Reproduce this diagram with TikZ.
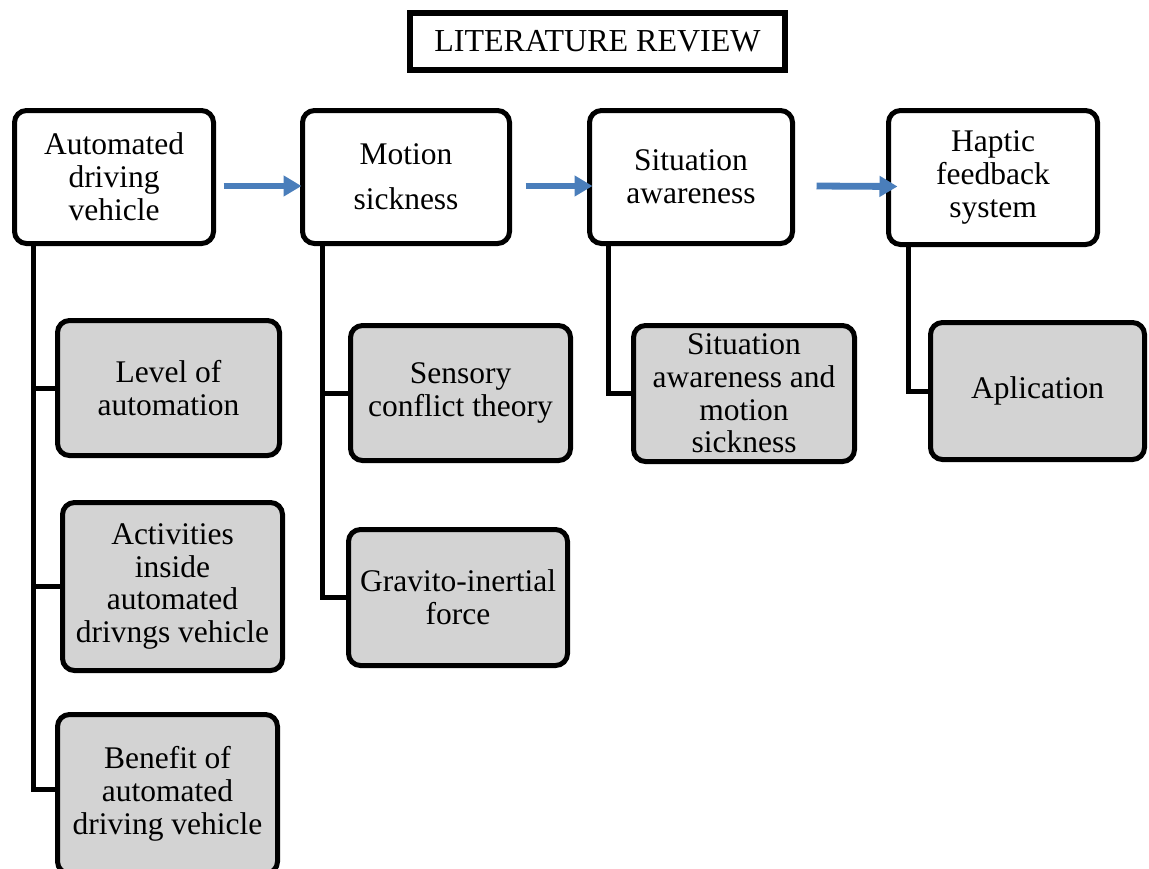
\documentclass[tikz,border=0pt]{standalone}
\usepackage{fontspec}
\setmainfont{Liberation Serif}
\usetikzlibrary{arrows.meta,calc}
\definecolor{subgray}{RGB}{211,211,211}
\definecolor{arrblue}{RGB}{74,126,187}
\tikzset{
  topbox/.style={draw=black, line width=2.5pt, rounded corners=6pt, fill=white,
    align=center, inner sep=0pt, font=\fontsize{15.75pt}{16.4pt}\selectfont},
  subbox/.style={topbox, fill=subgray},
  titlebox/.style={draw=black, line width=3pt, fill=white, inner sep=0pt,
    font=\fontsize{16pt}{18pt}\selectfont},
  trunk/.style={draw=black, line width=2.5pt},
  flowarrow/.style={draw=arrblue, line width=3.4pt, -{Triangle[length=9pt,width=10pt]}}
}
\begin{document}
\begin{tikzpicture}[x=0.5pt,y=-0.5pt]
\useasboundingbox (0,0) rectangle (1149,868);
\clip (0,0) rectangle (1149,868);
% title
\node[titlebox, minimum width=187.5pt, minimum height=28.5pt] (title) at (597.5,41.5) {LITERATURE REVIEW};
% top row
\node[topbox, minimum width=99.5pt, minimum height=66.5pt] (A) at (114,177) {Automated\\driving\\vehicle};
\node[topbox, minimum width=103.5pt, minimum height=66.5pt] (B) at (406,177) {Motion\\[6pt]sickness};
\node[topbox, minimum width=101.5pt, minimum height=66.5pt] (C) at (691,177) {Situation\\awareness};
\node[topbox, minimum width=104.5pt, minimum height=67pt] (D) at (993,177.5) {Haptic\\feedback\\system};
% sub boxes
\node[subbox, minimum width=111pt, minimum height=67.5pt] (L1) at (168.5,388) {Level of\\automation};
\node[subbox, minimum width=110pt, minimum height=84pt] (L2) at (172.5,586.5) {Activities\\inside\\automated\\drivngs vehicle};
\node[subbox, minimum width=110pt, minimum height=79.5pt] (L3) at (167.5,794) {Benefit of\\automated\\driving vehicle};
\node[subbox, minimum width=110pt, minimum height=67.5pt] (M1) at (460.5,393) {Sensory\\conflict theory};
\node[subbox, minimum width=109.5pt, minimum height=68pt] (M2) at (458,597.5) {Gravito-inertial\\force};
\node[subbox, minimum width=110.5pt, minimum height=68pt] (S1) at (744,393.5) {Situation\\awareness and\\motion\\sickness};
\node[subbox, minimum width=107pt, minimum height=68.5pt] (H1) at (1037.5,391) {Aplication};
% trunks
\draw[trunk] ($(A.south)+(-81,0)$) |- (L1.west);
\draw[trunk] ($(A.south)+(-81,0)$) |- (L2.west);
\draw[trunk] ($(A.south)+(-81,0)$) |- ($(L3.west)+(0,-5)$);
\draw[trunk] ($(B.south)+(-84,0)$) |- (M1.west);
\draw[trunk] ($(B.south)+(-84,0)$) |- (M2.west);
\draw[trunk] ($(C.south)+(-83,0)$) |- (S1.west);
\draw[trunk] ($(D.south)+(-84.5,0)$) |- (H1.west);
% arrows
\draw[flowarrow] ($(A.east)+(7.5,9)$) -- ($(B.west)+(1.5,9)$);
\draw[flowarrow] ($(B.east)+(13.5,9)$) -- ($(C.west)+(5.5,9)$);
\draw[flowarrow] ($(C.east)+(21.5,9)$) -- ($(D.west)+(11.5,9)$);
\end{tikzpicture}
\end{document}
